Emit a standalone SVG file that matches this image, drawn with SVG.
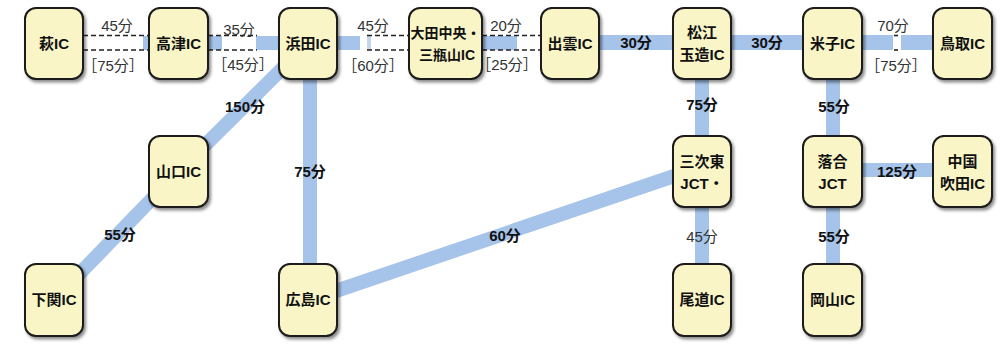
<svg xmlns="http://www.w3.org/2000/svg" width="1001" height="349" viewBox="0 0 1001 349">
<defs>
<filter id="sh" x="-20%" y="-20%" width="150%" height="150%">
<feDropShadow dx="2" dy="2.5" stdDeviation="1.5" flood-color="#000" flood-opacity="0.45"/>
</filter>
</defs>
<style>
.band{stroke:#a6c3ea;stroke-width:14;fill:none}
.bf{fill:#a6c3ea}
.dash{stroke:#222;stroke-width:1.5;stroke-dasharray:5,3;fill:none}
.node rect{fill:#f9f5c6;stroke:#1a1a1a;stroke-width:2;filter:url(#sh)}
.nt{font-family:"Liberation Sans","Noto Sans CJK JP",sans-serif;font-size:15px;font-weight:bold;fill:#111;text-anchor:middle}
.sm{font-size:14px}
.lb{font-family:"Liberation Sans","Noto Sans CJK JP",sans-serif;font-size:15px;font-weight:bold;fill:#111;text-anchor:middle}
.lr{font-family:"Liberation Sans","Noto Sans CJK JP",sans-serif;font-size:15px;font-weight:normal;fill:#333;text-anchor:middle}
</style>
<rect width="1001" height="349" fill="#fff"/>
<g id="connectors">
<line class="band" x1="308" y1="43" x2="178" y2="172"/>
<line class="band" x1="178" y1="172" x2="54" y2="300"/>
<line class="band" x1="310" y1="60" x2="310" y2="290"/>
<line class="band" x1="330" y1="293" x2="680" y2="174"/>
<line class="band" x1="702" y1="60" x2="702" y2="290"/>
<line class="band" x1="833" y1="60" x2="833" y2="290"/>
<line class="band" x1="850" y1="170" x2="945" y2="170"/>
<rect class="bf" x="595" y="35" width="82" height="15"/>
<rect class="bf" x="727" y="35" width="80" height="15"/>
<rect class="bf" x="143" y="36" width="8" height="14"/>
<rect class="bf" x="206" y="36" width="16" height="14"/>
<rect class="bf" x="256" y="36" width="26" height="14"/>
<rect class="bf" x="334" y="36" width="26" height="14"/>
<rect fill="#c3d6f0" x="367" y="36" width="4" height="14"/>
<rect class="bf" x="480" y="36" width="37" height="14"/>
<rect class="bf" x="860" y="35" width="33" height="15"/>
<rect class="bf" x="901" y="35" width="34" height="15"/>
<line class="dash" x1="83" y1="35.5" x2="149" y2="35.5"/>
<line class="dash" x1="83" y1="50" x2="149" y2="50"/>
<line class="dash" x1="208" y1="35.5" x2="257" y2="35.5"/>
<line class="dash" x1="208" y1="50" x2="257" y2="50"/>
<line class="dash" x1="367" y1="35.5" x2="409" y2="35.5"/>
<line class="dash" x1="367" y1="50" x2="409" y2="50"/>
<line class="dash" x1="482" y1="35.5" x2="541" y2="35.5"/>
<line class="dash" x1="482" y1="50" x2="541" y2="50"/>
<line stroke="#222" stroke-width="1.6" x1="894" y1="35.5" x2="898" y2="35.5"/>
<line stroke="#222" stroke-width="1.6" x1="894" y1="50" x2="898" y2="50"/>
<text class="lr" x="117" y="31">45分</text>
<text class="lr" x="113" y="71">［75分］</text>
<text class="lr" x="239" y="35">35分</text>
<text class="lr" x="243" y="70">［45分］</text>
<text class="lr" x="373" y="31">45分</text>
<text class="lr" x="373" y="71">［60分］</text>
<text class="lr" x="506" y="31">20分</text>
<text class="lr" x="507" y="70">［25分］</text>
<text class="lr" x="893" y="31">70分</text>
<text class="lr" x="896" y="71">［75分］</text>
<text class="lb" x="636" y="48">30分</text>
<text class="lb" x="767" y="48">30分</text>
<text class="lb" x="245" y="112">150分</text>
<text class="lb" x="120" y="240">55分</text>
<text class="lb" x="310" y="177">75分</text>
<text class="lb" x="505" y="241">60分</text>
<text class="lb" x="702" y="110">75分</text>
<text class="lb" x="834" y="112">55分</text>
<text class="lr" x="702" y="242">45分</text>
<text class="lb" x="834" y="242">55分</text>
<text class="lb" x="897" y="177">125分</text>
</g>
<g id="n-hagi" class="node"><rect x="25" y="8" width="58" height="71" rx="11"/><text class="nt" x="54" y="49">萩IC</text></g>
<g id="n-takatsu" class="node"><rect x="149" y="8" width="59" height="71" rx="11"/><text class="nt" x="178.5" y="49">高津IC</text></g>
<g id="n-hamada" class="node"><rect x="279" y="8" width="58" height="71" rx="11"/><text class="nt" x="308" y="49">浜田IC</text></g>
<g id="n-oda" class="node"><rect x="409" y="8" width="73" height="71" rx="11"/><text class="nt sm" x="445.5" y="38">大田中央・</text><text class="nt sm" x="447" y="60">三瓶山IC</text></g>
<g id="n-izumo" class="node"><rect x="541" y="8" width="58" height="71" rx="11"/><text class="nt" x="570" y="49">出雲IC</text></g>
<g id="n-matsue" class="node"><rect x="673" y="8" width="58" height="71" rx="11"/><text class="nt" x="702" y="38">松江</text><text class="nt" x="702" y="60">玉造IC</text></g>
<g id="n-yonago" class="node"><rect x="803" y="8" width="59" height="71" rx="11"/><text class="nt" x="832.5" y="49">米子IC</text></g>
<g id="n-tottori" class="node"><rect x="933" y="8" width="59" height="71" rx="11"/><text class="nt" x="962.5" y="49">鳥取IC</text></g>
<g id="n-yamaguchi" class="node"><rect x="149" y="136" width="59" height="71" rx="11"/><text class="nt" x="178.5" y="177">山口IC</text></g>
<g id="n-miyoshi" class="node"><rect x="673" y="136" width="58" height="71" rx="11"/><text class="nt" x="702" y="167">三次東</text><text class="nt" x="702" y="189">JCT・</text></g>
<g id="n-ochiai" class="node"><rect x="803" y="136" width="59" height="71" rx="11"/><text class="nt" x="832.5" y="167">落合</text><text class="nt" x="832.5" y="189">JCT</text></g>
<g id="n-suita" class="node"><rect x="933" y="136" width="59" height="71" rx="11"/><text class="nt" x="962.5" y="167">中国</text><text class="nt" x="962.5" y="189">吹田IC</text></g>
<g id="n-shimonoseki" class="node"><rect x="25" y="264" width="58" height="72" rx="11"/><text class="nt" x="54" y="305">下関IC</text></g>
<g id="n-hiroshima" class="node"><rect x="279" y="264" width="58" height="72" rx="11"/><text class="nt" x="308" y="305">広島IC</text></g>
<g id="n-onomichi" class="node"><rect x="673" y="264" width="58" height="72" rx="11"/><text class="nt" x="702" y="305">尾道IC</text></g>
<g id="n-okayama" class="node"><rect x="803" y="264" width="59" height="72" rx="11"/><text class="nt" x="832.5" y="305">岡山IC</text></g>
</svg>
